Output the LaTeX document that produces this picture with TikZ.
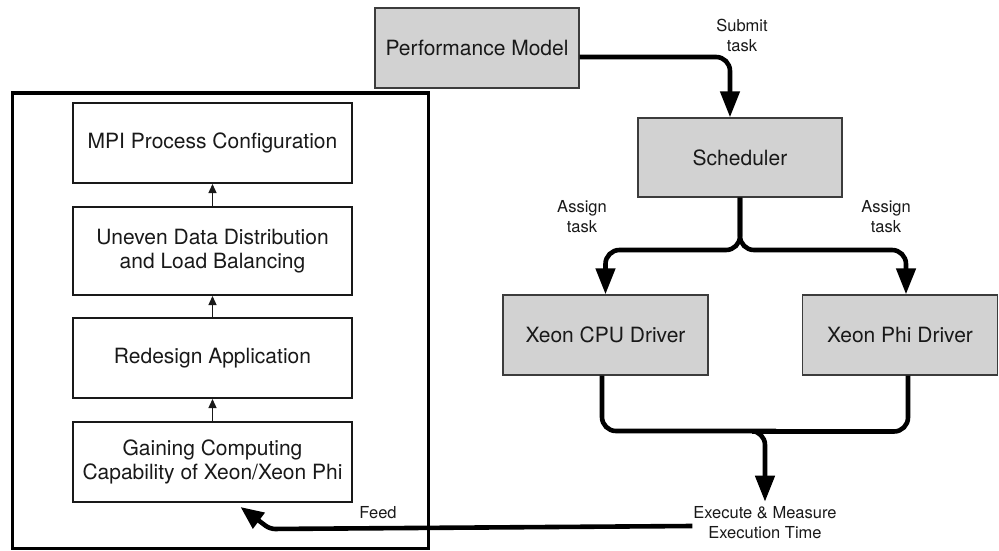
\documentclass[tikz,border=0pt]{standalone}
\usepackage{fontspec}
\setmainfont{TeX Gyre Heros}
\usetikzlibrary{arrows.meta}
\definecolor{boxgray}{RGB}{210,210,210}
\definecolor{ink}{RGB}{25,25,25}
\begin{document}
\begin{tikzpicture}[x=1pt,y=-1pt,
  graybox/.style={draw=ink!85, line width=1.3pt, fill=boxgray, inner sep=0pt, text=ink,
    font=\fontsize{21}{24}\selectfont, align=center},
  whitebox/.style={draw=ink, line width=2pt, fill=white, inner sep=0pt, text=ink,
    minimum width=279pt, font=\fontsize{21}{24}\selectfont, align=center},
  lbl/.style={text=ink, font=\fontsize{16.5}{20}\selectfont, align=center, inner sep=0pt},
  bigarrow/.style={draw=black, line width=4.6pt, rounded corners=14pt,
    -{Triangle[length=26pt,width=19pt]}},
  bigline/.style={draw=black, line width=4.6pt, rounded corners=14pt},
  smallarrow/.style={draw=ink, line width=1.3pt, -{Triangle[length=9pt,width=8pt]}}]
\useasboundingbox (0,0) rectangle (999,551);

% left frame
\node[draw=black, line width=3pt, minimum width=416pt, minimum height=455pt, inner sep=0pt] (frame) at (220,320.5) {};

\node[whitebox, minimum height=80pt] (mpi) at (212.5,143) {MPI Process Configuration};
\node[whitebox, minimum height=88pt] (uneven) at (212.5,251) {Uneven Data Distribution\\and Load Balancing};
\node[whitebox, minimum height=80pt] (redesign) at (212.5,358) {Redesign Application};
\node[whitebox, minimum height=80pt] (gain) at (212.5,462) {Gaining Computing\\Capability of Xeon/Xeon Phi};

\draw[smallarrow] (gain.north) -- (redesign.south);
\draw[smallarrow] (redesign.north) -- (uneven.south);
\draw[smallarrow] (uneven.north) -- (mpi.south);

% right part
\node[graybox, minimum width=204pt, minimum height=80pt] (pm) at (477,48) {Performance Model};
\node[graybox, minimum width=204pt, minimum height=79pt] (sch) at (740,157.5) {Scheduler};
\node[graybox, minimum width=205pt, minimum height=80pt] (cpu) at (605.5,335) {Xeon CPU Driver};
\node[graybox, minimum width=195pt, minimum height=80pt] (phi) at (900,335) {Xeon Phi Driver};

\node[lbl, inner xsep=1pt, inner ysep=5pt] (exec) at (765,523) {Execute \& Measure\\Execution Time};

\node[lbl] (submit) at (742,35) {Submit\\task};
\node[lbl] (assignl) at (582,217) {Assign\\task};
\node[lbl] (assignr) at (886,217) {Assign\\task};
\node[lbl] (feed) at (378,513) {Feed};

\coordinate (split) at (740,250);
\coordinate (merge) at (762,431);
\coordinate (mergeR) at (752,431.5);
\coordinate (feedbend) at (270,529);

\draw[bigarrow] ([yshift=-9pt]pm.east) -| ([xshift=-10pt]sch.north);
\draw[bigarrow] (sch.south) -- (split) -| (cpu.north);
\draw[bigarrow] (sch.south) -- (split) -| ([xshift=6pt]phi.north);

\draw[bigline] ([xshift=8pt]phi.south) |- (mergeR);
\draw[bigarrow] ([xshift=-3.5pt]cpu.south) |- (merge) -- (merge -| exec.north) -- (exec.north);

\draw[bigarrow, rounded corners=5pt, -{Triangle[length=23pt,width=19pt]}] ([yshift=-3pt]exec.west) -- (feedbend) -- ([xshift=28pt,yshift=-4pt]gain.south);
\end{tikzpicture}
\end{document}
